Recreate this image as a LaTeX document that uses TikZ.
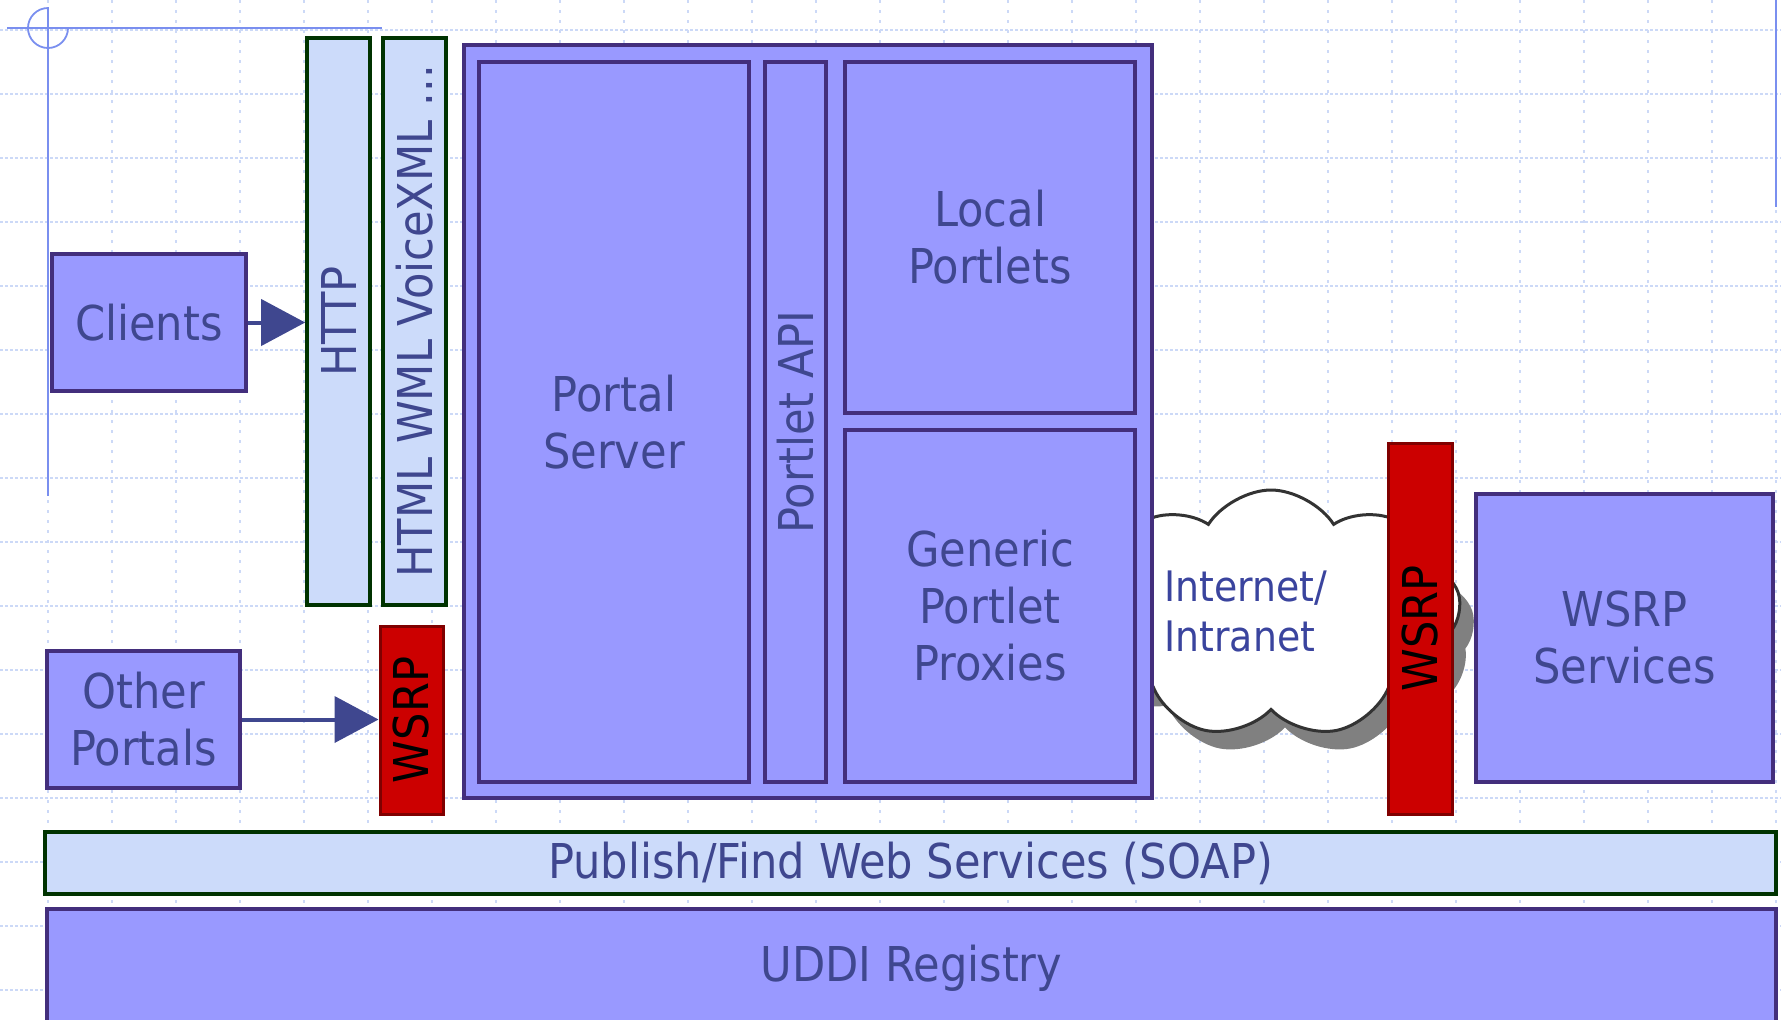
\documentclass[tikz,border=0pt]{standalone}
\usepackage{fontspec}
\setmainfont{DejaVu Sans}[FakeStretch=0.9]
\usetikzlibrary{arrows.meta,fit,shapes.symbols}
\definecolor{boxfill}{HTML}{9999FF}
\definecolor{boxline}{HTML}{432E7C}
\definecolor{barfill}{HTML}{CCDBFA}
\definecolor{barline}{HTML}{003300}
\definecolor{redfill}{HTML}{CC0000}
\definecolor{redline}{HTML}{800000}
\definecolor{txt}{HTML}{3F478F}
\definecolor{nettxt}{HTML}{3A449E}
\definecolor{gridc}{HTML}{CCD9F7}
\definecolor{crossc}{HTML}{7A8FEF}
\definecolor{cloudline}{HTML}{333333}
\definecolor{shadowc}{HTML}{808080}
\tikzset{
  every node/.style={font=\fontsize{24pt}{28.5pt}\selectfont},
  box/.style={draw=boxline, fill=boxfill, line width=1.8pt, inner sep=0pt},
  bar/.style={draw=barline, fill=barfill, line width=1.8pt, inner sep=0pt},
  redbar/.style={draw=redline, fill=redfill, line width=1.5pt, inner sep=0pt},
  lbl/.style={text=txt, inner sep=0pt, align=center},
  vlbl/.style={lbl, rotate=90},
  arr/.style={draw=txt, line width=2pt, -{Triangle[length=22pt,width=23pt]}},
  gridv/.style={draw=gridc, line width=0.8pt, dash pattern=on 1.5pt off 3.5pt},
  gridh/.style={draw=gridc, line width=0.8pt, dash pattern=on 1.5pt off 1pt},
  crossline/.style={draw=crossc, line width=0.9pt},
  cloudshape/.style={cloud, cloud puffs=9, cloud puff arc=115, aspect=1.45,
     minimum width=190pt, minimum height=124pt, inner sep=0pt}
}
\begin{document}
\begin{tikzpicture}[x=0.5pt,y=-0.5pt]
\useasboundingbox (0,0) rectangle (1781,1019);
\clip (0,0) rectangle (1781,1019);
% grid
\foreach \i in {0,...,27} \draw[gridv] ({48+64*\i},0) -- ({48+64*\i},1019);
\foreach \j in {0,...,15} \draw[gridh] (0,{30+64*\j}) -- (1781,{30+64*\j});
% crosshair marks
\draw[crossline] (7,28) -- (382,28);
\draw[crossline] (48,7) -- (48,496);
\draw[crossline] (48,8) arc[start angle=90, end angle=360, radius=10pt];
\draw[crossline] (1776,0) -- (1776,207);
% cloud
\node[cloudshape, fill=shadowc] (cloudsh) at (1285,632) {};
\node[cloudshape, fill=white, draw=cloudline, line width=1.5pt] (cloud) at (1271,614) {};
% left side
\node[box, fit={(52,254) (246,391)}] (clients) {};
\node[lbl] (clientst) at (clients.center) {Clients};
\node[box, fit={(47,651) (240,788)}] (others) {};
\node[lbl] (otherst) at (others.center) {Other\\Portals};
\node[bar, fit={(307,38) (370,605)}] (http) {};
\node[vlbl] (httpt) at (http.center) {HTTP};
\node[bar, fit={(383,38) (446,605)}] (html) {};
\node[vlbl] (htmlt) at (html.center) {HTML WML VoiceXML ...};
\node[redbar, fit={(380,626) (443,814)}] (wsrpL) {};
\node[vlbl, text=black] (wsrpLt) at (wsrpL.center) {WSRP};
% portal
\node[box, fit={(464,45) (1152,798)}] (outer) {};
\node[box, fit={(479,62) (749,782)}] (ps) {};
\node[lbl] (pst) at (ps.center) {Portal\\Server};
\node[box, fit={(765,62) (826,782)}] (papi) {};
\node[vlbl] (papit) at (papi.center) {Portlet API};
\node[box, fit={(845,62) (1135,413)}] (local) {};
\node[lbl] (localt) at (local.center) {Local\\Portlets};
\node[box, fit={(845,430) (1135,782)}] (generic) {};
\node[lbl] (generict) at (generic.center) {Generic\\Portlet\\Proxies};
% network
\node[lbl, text=nettxt, align=left, anchor=west, font=\fontsize{21pt}{25pt}\selectfont] (nett) at (1164,611) {Internet/\\Intranet};
\node[redbar, fit={(1388,443) (1452,814)}] (wsrpR) {};
\node[vlbl, text=black] (wsrpRt) at (wsrpR.center) {WSRP};
\node[box, fit={(1476,494) (1773,782)}] (wsrps) {};
\node[lbl] (wsrpst) at (wsrps.center) {WSRP\\Services};
% bottom
\node[bar, fit={(45,832) (1776,894)}] (publish) {};
\node[lbl] (publisht) at (publish.center) {Publish/Find Web Services (SOAP)};
\node[box, fit={(47,909) (1776,1027)}] (uddi) {};
\node[lbl] (uddit) at (uddi.center) {UDDI Registry};
% arrows
\draw[arr] (clients.east) -- (clients.east -| http.west);
\draw[arr] (others.east) -- (others.east -| wsrpL.west);
\end{tikzpicture}
\end{document}
